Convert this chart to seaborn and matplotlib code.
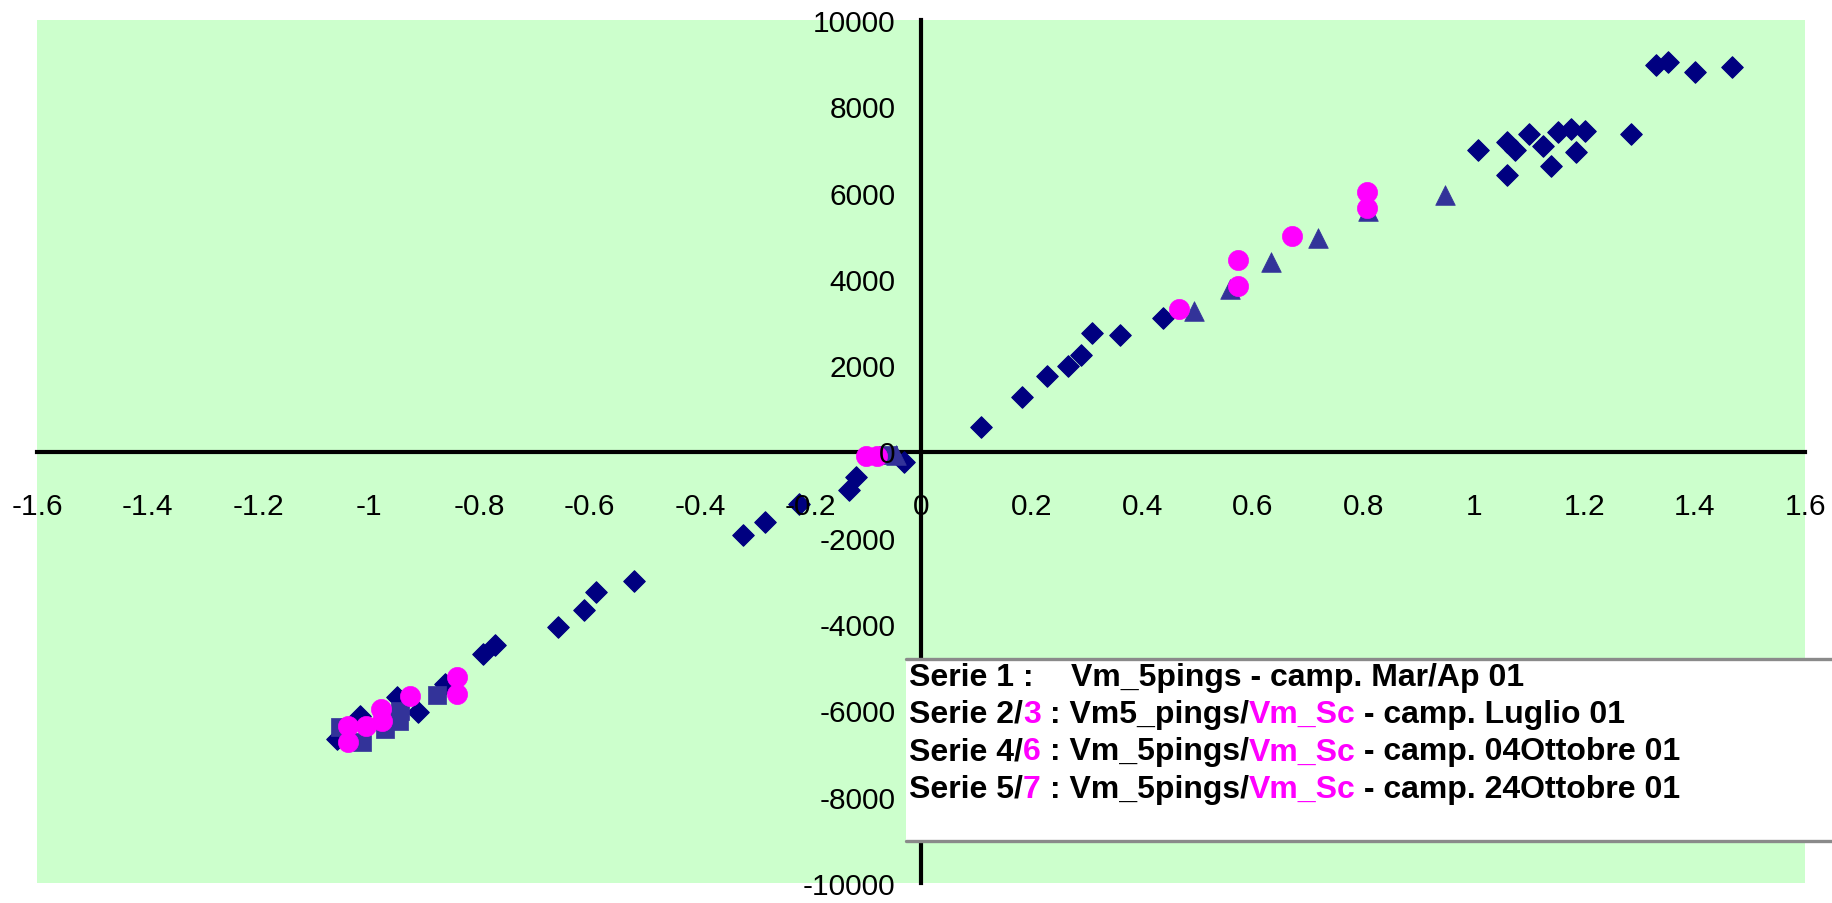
import matplotlib
matplotlib.use("Agg")
import matplotlib.pyplot as plt
import seaborn as sns
import pandas as pd
from matplotlib.patches import Rectangle
from matplotlib.lines import Line2D

# ---------------- data ----------------
# Serie 1 : Vm_5pings - camp. Mar/Ap 01 (navy diamonds)
s1_x = [0.108, 0.182, 0.227, 0.265, 0.290, 0.309, 0.360, 0.438,
        1.008, 1.061, 1.061, 1.075, 1.100, 1.125, 1.140, 1.152, 1.177, 1.185, 1.201, 1.284,
        1.330, 1.352, 1.401, 1.467,
        -0.031, -0.118, -0.131, -0.222, -0.283, -0.323, -0.520, -0.589, -0.610, -0.657,
        -0.771, -0.793, -0.862, -0.910, -0.949, -1.016, -1.058]
s1_y = [560, 1256, 1757, 1974, 2236, 2739, 2707, 3087,
        6994, 6408, 7166, 6994, 7358, 7073, 6624, 7397, 7474, 6948, 7435, 7358,
        8957, 9033, 8802, 8904,
        -251, -598, -892, -1217, -1641, -1935, -2994, -3264, -3680, -4075,
        -4490, -4693, -5388, -6044, -5697, -6123, -6663]

# Vm_5pings series (slate blue triangles)
tri_x = [0.494, 0.559, 0.634, 0.719, 0.809, 0.948, -0.045]
tri_y = [3264, 3766, 4384, 4940, 5581, 5944, -80]

# Vm_5pings series (slate blue squares)
sq_x = [-0.877, -0.943, -0.946, -0.970, -1.052, -1.013, -0.060]
sq_y = [-5643, -6006, -6238, -6431, -6392, -6739, -90]

# Vm_Sc series (magenta circles)
sc_x = [-0.100, -0.080, 0.467, 0.573, 0.573, 0.671, 0.806, 0.806,
        -0.841, -0.841, -0.925, -0.978, -0.976, -1.004, -1.037, -1.037]
sc_y = [-100, -100, 3302, 4446, 3843, 4987, 6006, 5636,
        -5233, -5620, -5659, -5967, -6238, -6354, -6354, -6739]

x_ticks = [-1.6, -1.4, -1.2, -1.0, -0.8, -0.6, -0.4, -0.2, 0.0,
           0.2, 0.4, 0.6, 0.8, 1.0, 1.2, 1.4, 1.6]
x_tick_labels = ["-1.6", "-1.4", "-1.2", "-1", "-0.8", "-0.6", "-0.4", "-0.2", "0",
                 "0.2", "0.4", "0.6", "0.8", "1", "1.2", "1.4", "1.6"]
y_ticks = [-10000, -8000, -6000, -4000, -2000, 0, 2000, 4000, 6000, 8000, 10000]
y_tick_labels = ["-10000", "-8000", "-6000", "-4000", "-2000", "0",
                 "2000", "4000", "6000", "8000", "10000"]

legend_line1 = ["Serie 1 :", "Vm_5pings - camp. Mar/Ap 01"]
legend_lines = [
    [("Serie 2/", "k"), ("3", "m"), (" : Vm5_pings/", "k"), ("Vm_Sc", "m"), (" - camp. Luglio 01", "k")],
    [("Serie 4/", "k"), ("6", "m"), (" : Vm_5pings/", "k"), ("Vm_Sc", "m"), (" - camp. 04Ottobre 01", "k")],
    [("Serie 5/", "k"), ("7", "m"), (" : Vm_5pings/", "k"), ("Vm_Sc", "m"), (" - camp. 24Ottobre 01", "k")],
]

# ---------------- style ----------------
sns.set_style("white")
plt.rcParams["font.family"] = ["Liberation Sans", "DejaVu Sans"]

NAVY = "#000080"
SLATE = "#333399"
MAGENTA = "#FF00FF"
GREEN = "#CCFFCC"
colmap = {"k": "black", "m": MAGENTA}

W, H = 1832, 904
fig = plt.figure(figsize=(W / 100, H / 100), dpi=100, facecolor="white")
ax = fig.add_axes([37.2 / W, 20 / H, 1768 / W, 863 / H])
ax.set_facecolor(GREEN)

df1 = pd.DataFrame({"x": s1_x, "y": s1_y})
dft = pd.DataFrame({"x": tri_x, "y": tri_y})
dfs = pd.DataFrame({"x": sq_x, "y": sq_y})
dfc = pd.DataFrame({"x": sc_x, "y": sc_y})

sns.scatterplot(data=df1, x="x", y="y", ax=ax, marker="D", s=120, color=NAVY,
                edgecolor=NAVY, linewidth=0.8, zorder=3, legend=False)
sns.scatterplot(data=dfs, x="x", y="y", ax=ax, marker="s", s=175, color=SLATE,
                edgecolor=SLATE, linewidth=0.5, zorder=4, legend=False)
sns.scatterplot(data=dft, x="x", y="y", ax=ax, marker="^", s=200, color=SLATE,
                edgecolor=SLATE, linewidth=0.5, zorder=4, legend=False)
sns.scatterplot(data=dfc, x="x", y="y", ax=ax, marker="o", s=210, color=MAGENTA,
                edgecolor=MAGENTA, linewidth=0.5, zorder=5, legend=False)

ax.set_xlim(-1.6, 1.6)
ax.set_ylim(-10000, 10000)
ax.set_xlabel("")
ax.set_ylabel("")
ax.set_xticks(x_ticks)
ax.set_xticklabels(x_tick_labels)
ax.set_yticks(y_ticks)
ax.set_yticklabels(y_tick_labels)
ax.grid(False)

for side in ["top", "right"]:
    ax.spines[side].set_visible(False)
ax.spines["left"].set_position(("data", 0))
ax.spines["bottom"].set_position(("data", 0))
for side in ["left", "bottom"]:
    ax.spines[side].set_linewidth(3.0)
    ax.spines[side].set_color("black")
    ax.spines[side].set_zorder(2)

ax.tick_params(axis="both", direction="out", length=7.5, width=2.6, colors="black",
               labelsize=21.5)
ax.tick_params(axis="x", pad=22)
ax.tick_params(axis="y", pad=11)
ax.yaxis.set_zorder(6)
ax.xaxis.set_zorder(6)

# ---------------- legend box ----------------
bx0, by_top, by_bot = 906 / W, 1 - 660 / H, 1 - 842 / H
fig.add_artist(Rectangle((bx0, by_bot), 1.02 - bx0, by_top - by_bot, transform=fig.transFigure,
                         facecolor="white", edgecolor="none", zorder=10))
for yy in (by_top, by_bot):
    fig.add_artist(Line2D([bx0, 1.0], [yy, yy], transform=fig.transFigure,
                          color="#8a8a8a", lw=2.4, zorder=11))

FS = 23
tx0 = 909 / W
line_y = [1 - 678 / H, 1 - 715 / H, 1 - 752.5 / H, 1 - 790 / H]

fig.text(tx0, line_y[0], legend_line1[0], fontsize=FS, fontweight="bold",
         color="black", va="center", ha="left", zorder=12)
fig.text(1071 / W, line_y[0], legend_line1[1], fontsize=FS, fontweight="bold",
         color="black", va="center", ha="left", zorder=12)

for i, segs in enumerate(legend_lines):
    prev = None
    for txt, c in segs:
        if prev is None:
            prev = fig.text(tx0, line_y[i + 1], txt, fontsize=FS, fontweight="bold",
                            color=colmap[c], va="center", ha="left", zorder=12)
        else:
            prev = fig.add_artist(plt.Annotation(
                txt, xy=(1, 0), xycoords=prev, xytext=(0, 0), textcoords="offset points",
                fontsize=FS, fontweight="bold", color=colmap[c],
                va="bottom", ha="left", zorder=12))

fig.savefig("out.png", dpi=100, facecolor="white")
